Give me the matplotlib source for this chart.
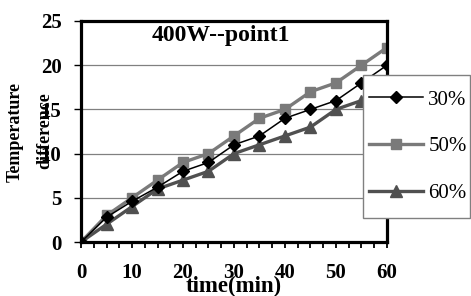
import matplotlib
matplotlib.use('Agg')
import matplotlib.pyplot as plt
from matplotlib.patches import Rectangle
from matplotlib.ticker import MultipleLocator

# data
time_min = [0, 5, 10, 15, 20, 25, 30, 35, 40, 45, 50, 55, 60]
p30 = [0, 2.8, 4.6, 6.2, 8, 9, 11, 12, 14, 15, 16, 18, 20]
p50 = [0, 3, 5, 7, 9, 10, 12, 14, 15, 17, 18, 20, 22]
p60 = [0, 2, 4, 6, 7, 8, 10, 11, 12, 13, 15, 16, 18]
series_labels = ['30%', '50%', '60%']

plt.rcParams['font.family'] = ['Liberation Serif', 'DejaVu Serif']

W, H = 471, 296
fig = plt.figure(figsize=(W / 100, H / 100), dpi=100)
ax = fig.add_axes([81 / W, 1 - 242 / H, (387 - 81) / W, (242 - 21) / H])

# grid lines behind the data
for yv in [5, 10, 15, 20]:
    ax.axhline(yv, color='#808080', lw=0.9, zorder=1)

ax.plot(time_min, p50, color='#7a7a7a', lw=2.4, marker='s', ms=7.5,
        label=series_labels[1], zorder=3)
ax.plot(time_min, p60, color='#505050', lw=2.4, marker='^', ms=8.5,
        label=series_labels[2], zorder=3)
ax.plot(time_min, p30, color='black', lw=1.1, marker='D', ms=6.5,
        label=series_labels[0], zorder=4)

ax.set_xlim(0, 60)
ax.set_ylim(0, 25)
ax.xaxis.set_major_locator(MultipleLocator(10))
ax.xaxis.set_minor_locator(MultipleLocator(2.5))
ax.yaxis.set_major_locator(MultipleLocator(5))
for s in ax.spines.values():
    s.set_linewidth(2.3)
    s.set_zorder(5)
ax.tick_params(axis='x', which='both', direction='out', length=4, width=1.3, pad=11)
ax.tick_params(axis='y', which='major', direction='out', length=5, width=1, pad=9)
ax.tick_params(labelsize=15)
for lab in ax.get_xticklabels() + ax.get_yticklabels():
    lab.set_fontweight('bold')

ax.text(0.457, 0.935, '400W--point1', transform=ax.transAxes, ha='center',
        va='center', fontsize=17, fontweight='bold')

fig.text(15 / W, 1 - 132 / H, 'Temperature', rotation=90, ha='center',
         va='center', fontsize=13, fontweight='bold')
fig.text(45 / W, 1 - 131 / H, 'difference', rotation=90, ha='center',
         va='center', fontsize=13, fontweight='bold')
fig.text(234 / W, 1 - 286 / H, 'time(min)', ha='center', va='center',
         fontsize=16.5, fontweight='bold')

# legend box drawn separately so the padding can differ per side
box = Rectangle((363 / W, 1 - 218 / H), (470 - 363) / W, (218 - 75) / H,
                transform=fig.transFigure, facecolor='white',
                edgecolor='#808080', lw=1, zorder=5)
fig.patches.append(box)

h, l = ax.get_legend_handles_labels()
order = [2, 0, 1]
leg = fig.legend([h[i] for i in order], [l[i] for i in order],
                 loc='upper left', bbox_to_anchor=(369 / W, 1 - 90 / H),
                 frameon=False, fontsize=15, handlelength=2.6,
                 handletextpad=0.25, labelspacing=1.3, borderpad=0,
                 borderaxespad=0)
leg.set_zorder(10)

fig.savefig('out.png', dpi=100)
